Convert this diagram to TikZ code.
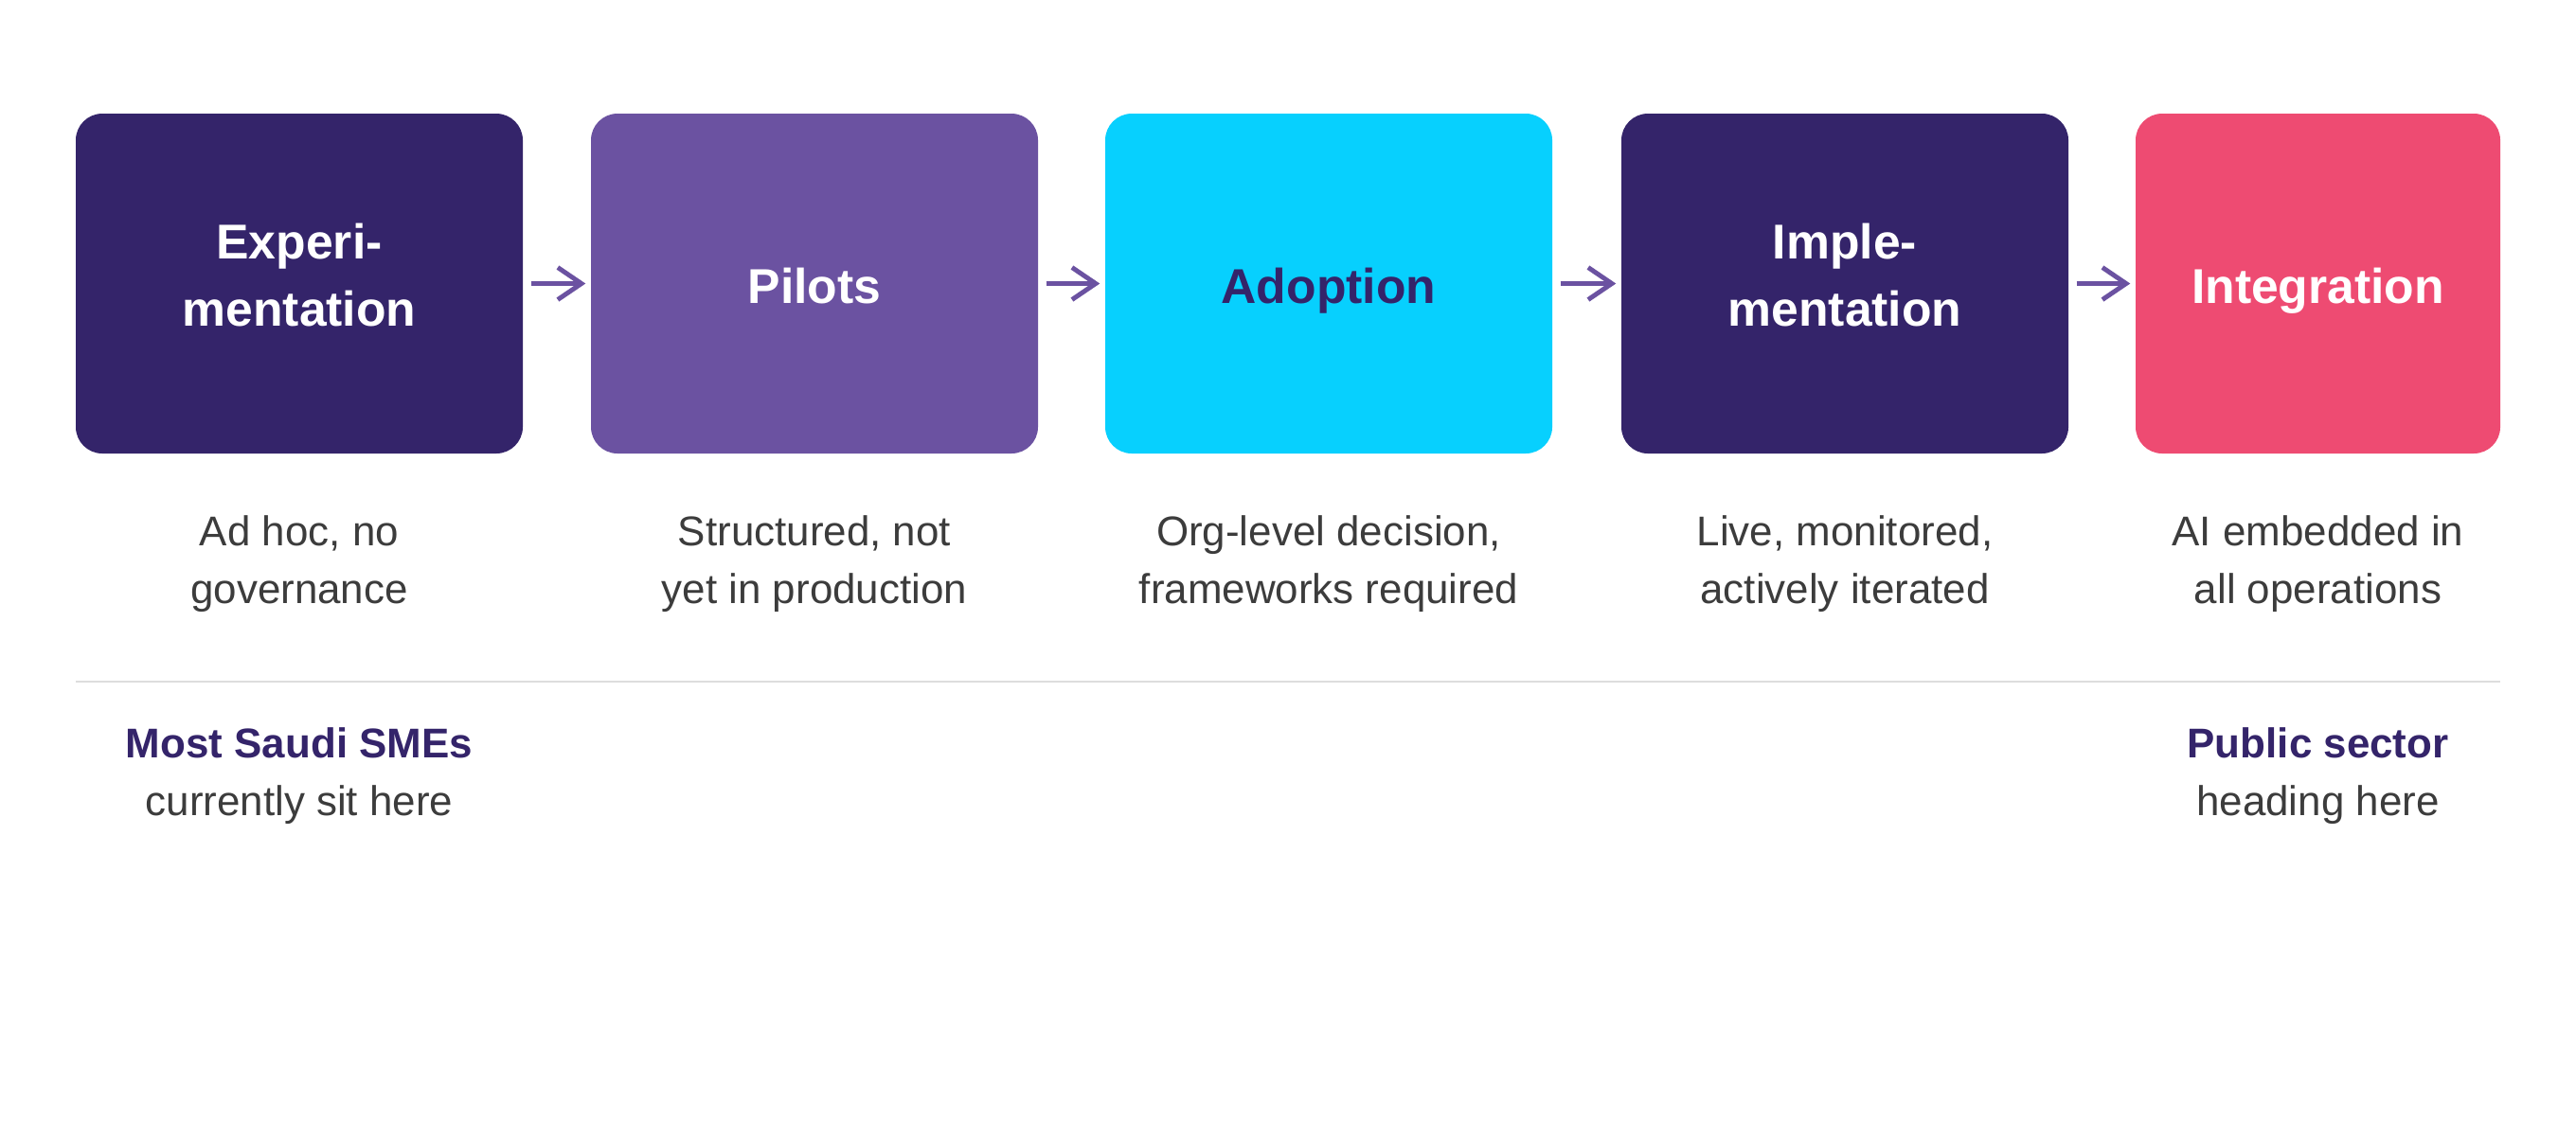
\documentclass[tikz,border=0pt]{standalone}
\usepackage{fontspec}
\setmainfont{Liberation Sans}
\usetikzlibrary{arrows.meta}
\definecolor{cNavy}{HTML}{34246A}
\definecolor{cPurple}{HTML}{6B52A1}
\definecolor{cCyan}{HTML}{07D0FE}
\definecolor{cPink}{HTML}{EE4B72}
\definecolor{cText}{HTML}{3C3C3C}
\definecolor{cRule}{HTML}{DDDDDD}
\newcommand{\lowpad}{\rule[-5pt]{0pt}{5pt}}
\newcommand{\onepad}{\rule[-3.5pt]{0pt}{19.2pt}}
\tikzstyle{bS}=[rounded corners=0.28cm,minimum width=4.72cm,minimum height=3.59cm,inner sep=0pt,text=white,font=\fontsize{14.7}{20.2}\selectfont\bfseries,align=center]
\tikzstyle{dS}=[inner sep=0pt,text=cText,font=\fontsize{12.5}{17.4}\selectfont,align=center]
\tikzstyle{aS}=[line width=1.4pt,draw=cPurple,-{Straight Barb[length=0.25cm,width=0.34cm]},shorten <=0.08cm,shorten >=0.05cm]
\begin{document}
\begin{tikzpicture}
    \useasboundingbox (0,0) rectangle (27.2,-12);
    \draw (3.16,-2.995) node[bS,fill=cNavy] (exp) {Experi-\\mentation\lowpad};
    \draw (8.60,-2.995) node[bS,fill=cPurple] (pil) {Pilots\onepad};
    \draw (14.03,-2.995) node[bS,fill=cCyan,text=cNavy] (ado) {Adoption\onepad};
    \draw (19.48,-2.995) node[bS,fill=cNavy] (imp) {Imple-\\mentation\lowpad};
    \draw (24.475,-2.995) node[bS,fill=cPink,minimum width=3.85cm] (int) {Integration\onepad};
    \path
        (exp) edge[aS] (pil)
        (pil) edge[aS] (ado)
        (ado) edge[aS] (imp)
        (imp) edge[aS] (int)
    ;
    \draw (3.16,-5.955) node[dS] (dExp) {Ad hoc, no\\governance};
    \draw (8.60,-5.955) node[dS] (dPil) {Structured, not\\yet in production};
    \draw (14.03,-5.955) node[dS] (dAdo) {Org-level decision,\\frameworks required};
    \draw (19.48,-5.955) node[dS] (dImp) {Live, monitored,\\actively iterated};
    \draw (24.475,-5.955) node[dS] (dInt) {AI embedded in\\all operations};
    \draw[cRule,line width=0.6pt] (0.8,-7.2) -- (26.4,-7.2);
    \draw (3.16,-8.195) node[dS] (now) {\textcolor{cNavy}{\textbf{Most Saudi SMEs}}\\currently sit here};
    \draw (24.475,-8.195) node[dS] (next) {\textcolor{cNavy}{\textbf{Public sector}}\\heading here};
\end{tikzpicture}
\end{document}
